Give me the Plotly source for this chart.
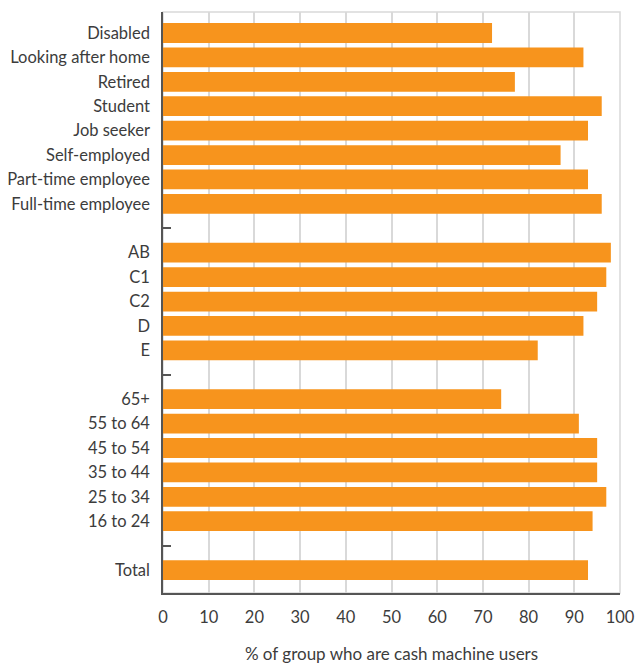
import plotly.graph_objects as go

categories = ["Disabled", "Looking after home", "Retired", "Student", "Job seeker",
              "Self-employed", "Part-time employee", "Full-time employee", " ",
              "AB", "C1", "C2", "D", "E", "  ",
              "65+", "55 to 64", "45 to 54", "35 to 44", "25 to 34", "16 to 24", "   ",
              "Total"]
values = [72, 92, 77, 96, 93, 87, 93, 96, None,
          98, 97, 95, 92, 82, None,
          74, 91, 95, 95, 97, 94, None,
          93]
gap_categories = [" ", "  ", "   "]
x_ticks = [0, 10, 20, 30, 40, 50, 60, 70, 80, 90, 100]
x_title = "% of group who are cash machine users"

ORANGE = "#F7941D"
TEXT = "#3c3c3c"
FONT = "Lato"
yrange = [len(categories) - 1 + 0.94, -0.86]

fig = go.Figure()
fig.add_trace(go.Bar(
    y=categories, x=values, orientation="h",
    marker=dict(color=ORANGE, line=dict(width=0)),
    width=0.81, hoverinfo="x+y",
))
fig.add_trace(go.Bar(
    y=categories, x=[None] * len(categories), orientation="h",
    yaxis="y2", showlegend=False, hoverinfo="skip",
))

fig.update_layout(
    width=635, height=664,
    margin=dict(l=163, r=15, t=12, b=71),
    paper_bgcolor="white", plot_bgcolor="white",
    showlegend=False,
    font=dict(family=FONT, size=16, color=TEXT),
    xaxis=dict(
        range=[0, 100], tickvals=x_ticks, showgrid=True,
        gridcolor="#d9d9d9", gridwidth=1.5,
        showline=True, linecolor="#555555", linewidth=1.5,
        ticks="outside", ticklen=8, tickcolor="rgba(0,0,0,0)", zeroline=False,
        tickfont=dict(size=16.5, color=TEXT), automargin=False,
        title=dict(text=x_title, font=dict(size=17, color=TEXT), standoff=27),
    ),
    yaxis=dict(
        type="category", categoryorder="array", categoryarray=categories,
        range=yrange, showline=True, linecolor="#555555", linewidth=1.5,
        ticks="", showgrid=False, tickfont=dict(size=16.5, color=TEXT),
        ticklabelstandoff=8, automargin=False,
    ),
    yaxis2=dict(
        type="category", categoryorder="array", categoryarray=categories,
        overlaying="y", side="left", range=yrange,
        tickvals=gap_categories, showticklabels=False,
        ticks="inside", ticklen=8, tickwidth=1.5, tickcolor="#555555",
        showgrid=False, showline=False,
    ),
    shapes=[dict(type="rect", xref="paper", yref="paper", x0=0, x1=1, y0=0, y1=1,
                 line=dict(color="#d9d9d9", width=1.5), layer="below")],
)

fig.write_html("out.html")
